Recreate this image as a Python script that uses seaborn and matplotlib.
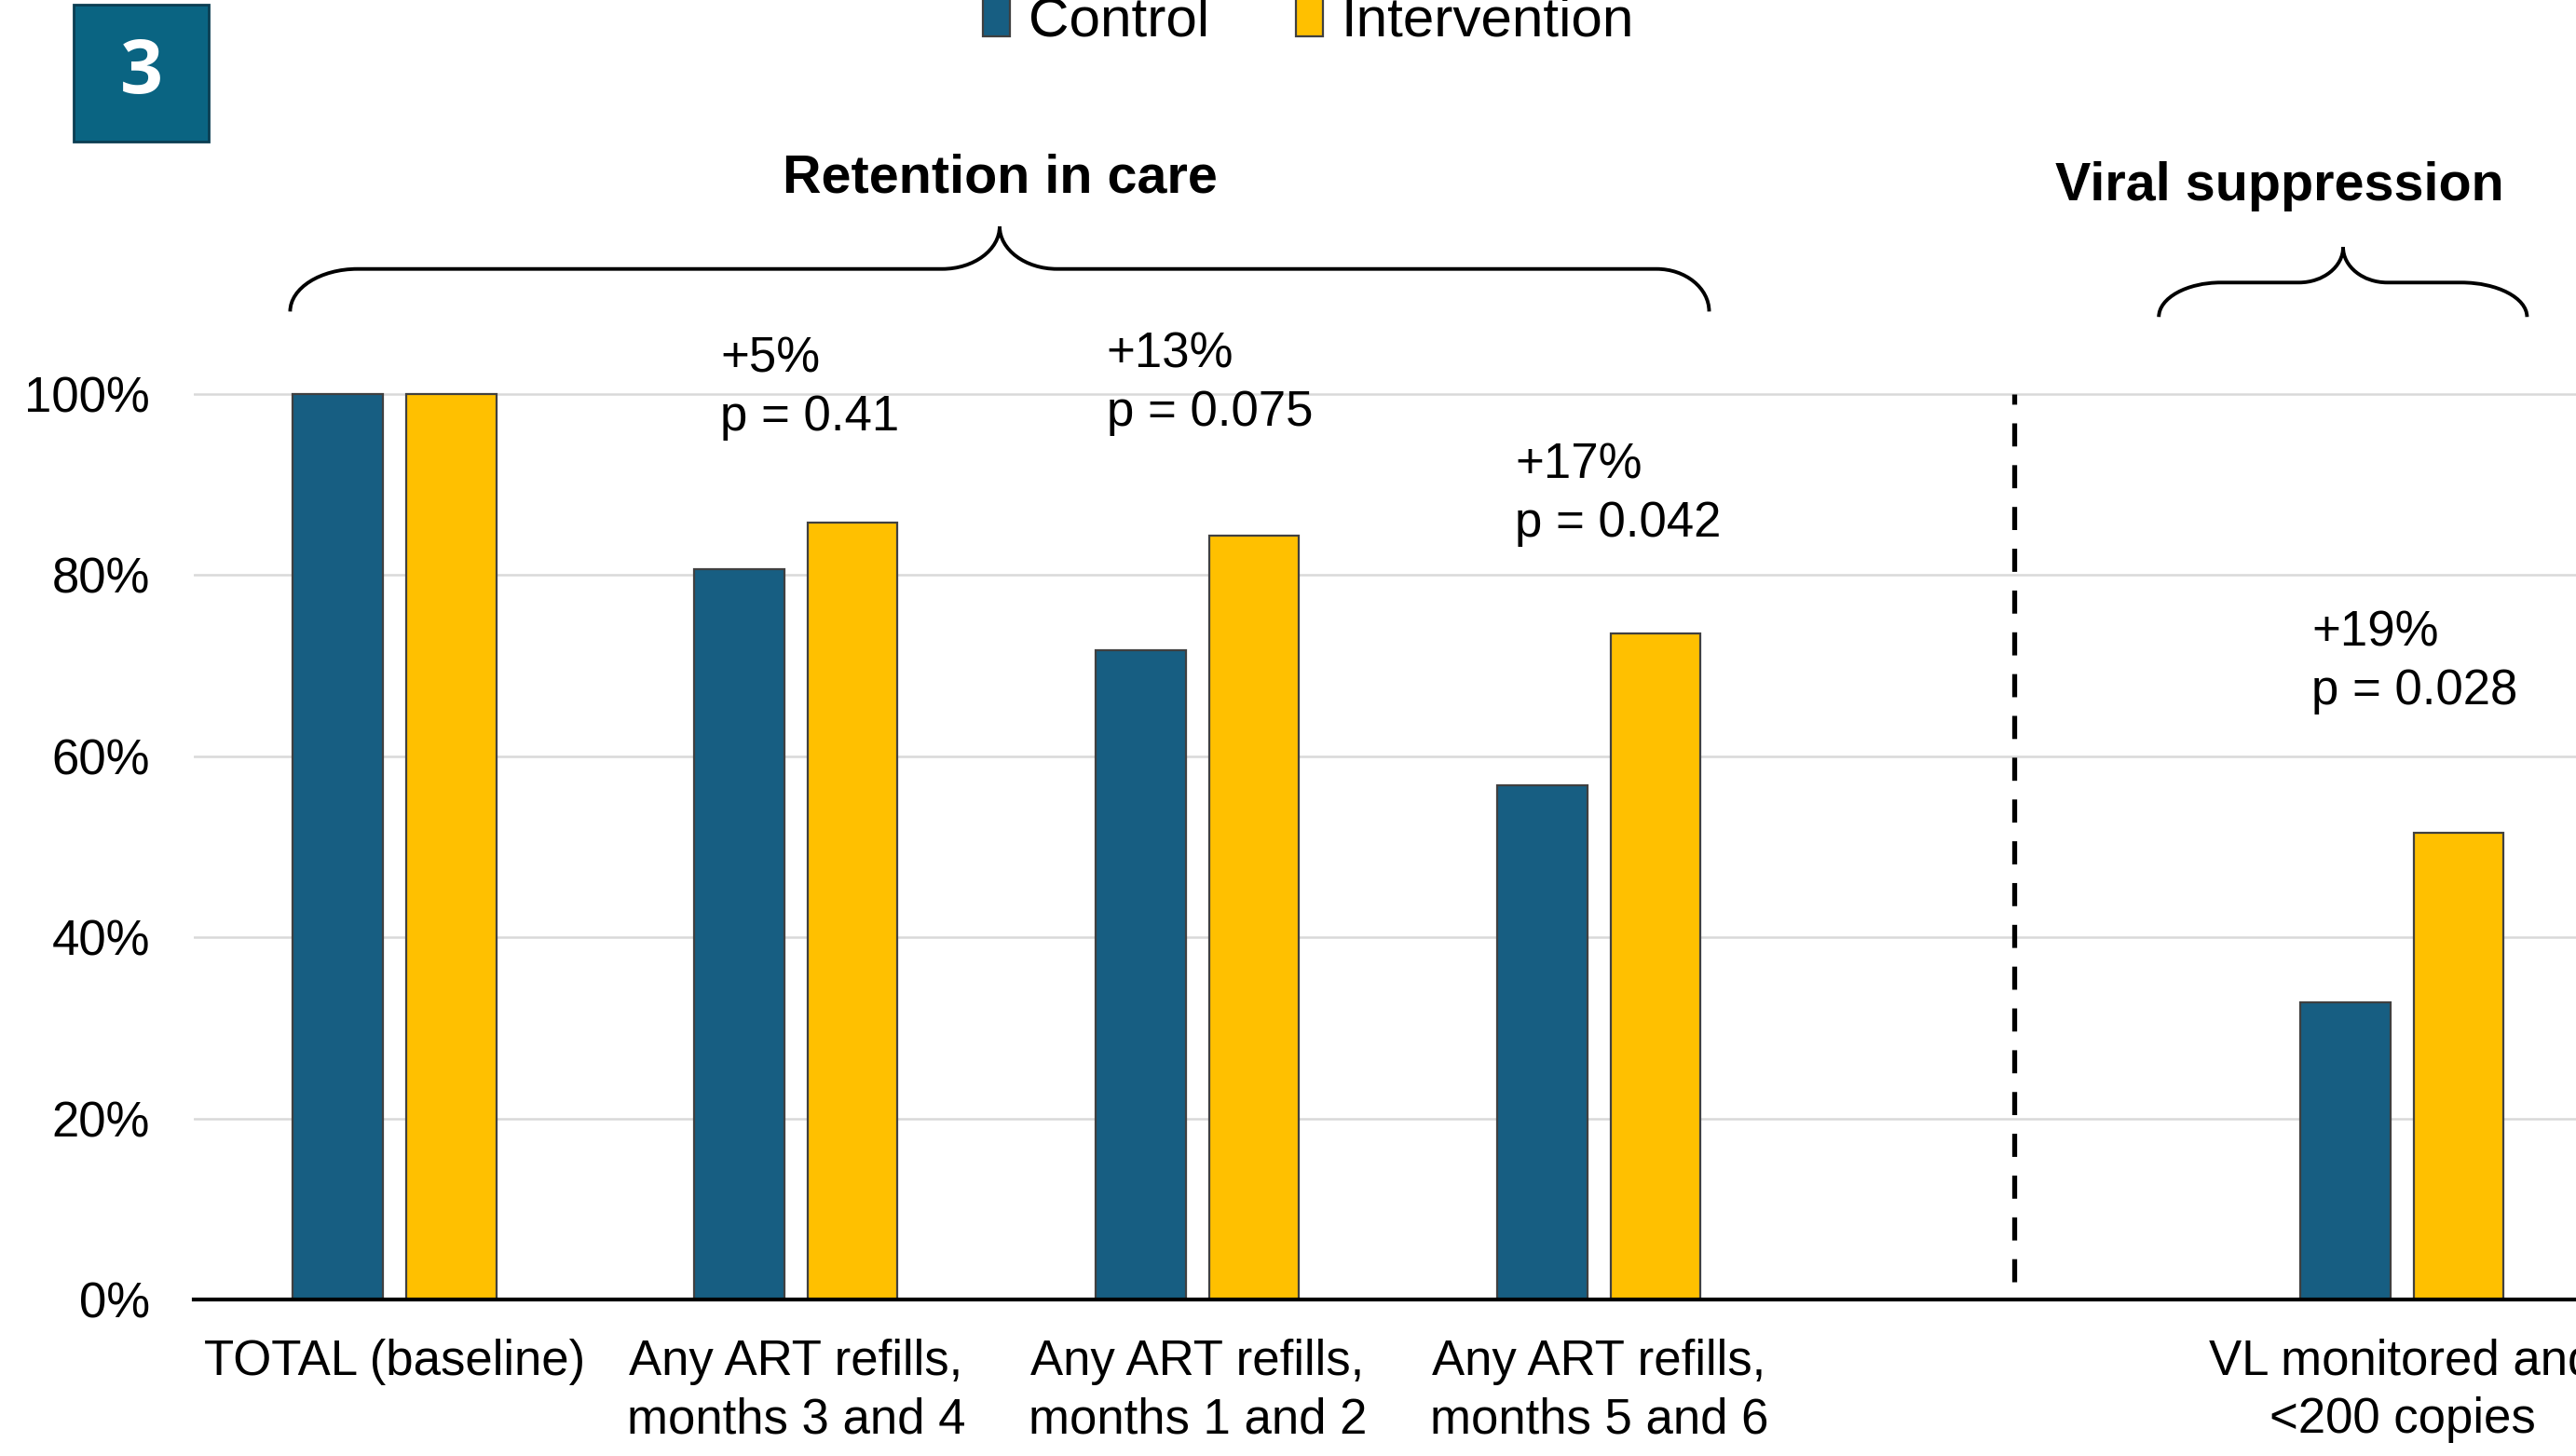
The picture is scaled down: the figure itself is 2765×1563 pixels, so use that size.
"""
Retention in care and viral suppression, control vs intervention (panel 3)
"""

import pandas as pd
import matplotlib.pyplot as plt
from matplotlib.path import Path
from matplotlib.patches import PathPatch, Rectangle, Patch
import seaborn as sns

# Data
categories = [
    "TOTAL (baseline)",
    "Any ART refills,\nmonths 3 and 4",
    "Any ART refills,\nmonths 1 and 2",
    "Any ART refills,\nmonths 5 and 6",
    "VL monitored and\n<200 copies",
]
control = [100, 80.6, 71.7, 56.8, 32.8]
intervention = [100, 85.8, 84.4, 73.5, 51.5]
groups = ["Control", "Intervention"]
effects = ["+5%\np = 0.41", "+13%\np = 0.075", "+17%\np = 0.042", "+19%\np = 0.028"]
ytick_values = [0, 20, 40, 60, 80, 100]

palette = {"Control": "#175E82", "Intervention": "#FFC000"}
EDGE = "#404040"


def draw_brace(ax, x0, x1, xm, y_end, y_flat, y_tip, rx0, rx1, rxm, lw=1.4):
    """Curly brace opening downwards, drawn in data coordinates."""
    k = 0.55
    verts = [
        (x0, y_end),
        (x0, y_end + k * (y_flat - y_end)), (x0 + (1 - k) * rx0, y_flat), (x0 + rx0, y_flat),
        (xm - rxm, y_flat),
        (xm - (1 - k) * rxm, y_flat), (xm, y_flat + (1 - k) * (y_tip - y_flat)), (xm, y_tip),
        (xm, y_flat + (1 - k) * (y_tip - y_flat)), (xm + (1 - k) * rxm, y_flat), (xm + rxm, y_flat),
        (x1 - rx1, y_flat),
        (x1 - (1 - k) * rx1, y_flat), (x1, y_end + k * (y_flat - y_end)), (x1, y_end),
    ]
    codes = [Path.MOVETO,
             Path.CURVE4, Path.CURVE4, Path.CURVE4,
             Path.LINETO,
             Path.CURVE4, Path.CURVE4, Path.CURVE4,
             Path.CURVE4, Path.CURVE4, Path.CURVE4,
             Path.LINETO,
             Path.CURVE4, Path.CURVE4, Path.CURVE4]
    ax.add_patch(PathPatch(Path(verts, codes), fill=False, edgecolor="black",
                           lw=lw, clip_on=False, capstyle="butt"))


sns.set_style("white")
plt.rcParams["font.family"] = ["Liberation Sans", "DejaVu Sans"]
plt.rcParams["text.color"] = "black"
plt.rcParams["xtick.color"] = "black"
plt.rcParams["ytick.color"] = "black"

df = pd.DataFrame({
    "category": categories * 2,
    "group": [groups[0]] * len(categories) + [groups[1]] * len(categories),
    "value": control + intervention,
})
# blank slot between the retention and viral suppression groups
order = categories[:4] + [" "] + categories[4:]

fig = plt.figure(figsize=(13.825, 7.815), dpi=200)
ax = fig.add_axes([208 / 2765, 0.1075, 1 - 208 / 2765, 0.8925])

sns.barplot(data=df, x="category", y="value", hue="group", order=order,
            hue_order=groups, palette=palette, saturation=1, width=0.564, gap=0.206,
            errorbar=None, edgecolor=EDGE, linewidth=0.8, ax=ax, legend=False)

ax.set_xlim(-0.5, 5.433)
ax.set_ylim(0, 143.5)
ax.set_yticks(ytick_values)
ax.set_yticklabels([f"{v}%" for v in ytick_values])
ax.set_xlabel("")
ax.set_ylabel("")
ax.tick_params(axis="both", length=0, labelsize=19, labelcolor="black")
ax.tick_params(axis="y", pad=17)
ax.tick_params(axis="x", pad=15)
for t in ax.get_xticklabels():
    t.set_linespacing(1.32)

ax.yaxis.grid(True, color="#d9d9d9", lw=0.9)
ax.xaxis.grid(False)
ax.set_axisbelow(True)
for side in ["left", "top", "right"]:
    ax.spines[side].set_visible(False)
ax.spines["bottom"].set_color("black")
ax.spines["bottom"].set_linewidth(1.5)

# separator between retention and viral suppression
ax.plot([4.035, 4.035], [2, 100], color="black", lw=1.9, ls=(0, (4.7, 3.8)))

# effect sizes
effect_pos = [(0.812, 100.6), (1.773, 101.1), (2.791, 88.9), (4.775, 70.4)]
for (x, y), s in zip(effect_pos, effects):
    ax.text(x, y, s, fontsize=19, ha="left", va="center", linespacing=1.32)

# group braces and headers
draw_brace(ax, -0.26, 3.274, 1.507, 109.1, 113.8, 118.5, 0.168, 0.131, 0.143)
draw_brace(ax, 4.394, 5.311, 4.853, 108.5, 112.3, 116.2, 0.155, 0.164, 0.11)
ax.text(1.507, 122.3, "Retention in care", fontsize=20.7, fontweight="bold",
        ha="center", va="baseline")
ax.text(4.695, 121.4, "Viral suppression", fontsize=20.7, fontweight="bold",
        ha="center", va="baseline")

# legend at the top
handles = [Patch(facecolor=palette[g], edgecolor=EDGE, lw=0.8) for g in groups]
fig.legend(handles, groups, loc="center", bbox_to_anchor=(0.508, 0.985), ncol=2,
           frameon=False, fontsize=21.7, handlelength=0.48, handleheight=0.7,
           handletextpad=0.32, columnspacing=1.55)

# panel number box
fig.patches.append(Rectangle((79 / 2765, 0.9027), 145 / 2765, 0.094,
                             transform=fig.transFigure, facecolor="#0A6482",
                             edgecolor="#0B3D52", lw=1))
fig.text((79 + 72.5) / 2765, 0.9027 + 0.047, "3", color="white", fontsize=29,
         fontweight="bold", ha="center", va="center",
         family=["Open Sans", "DejaVu Sans"])

fig.savefig("out.png", dpi=200)
